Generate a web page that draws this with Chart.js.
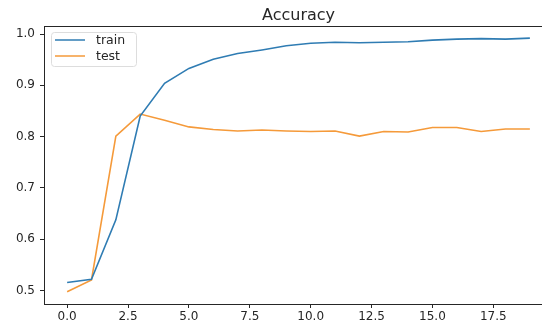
<!DOCTYPE html>
<html>
<head>
<meta charset="utf-8">
<script src="https://cdn.jsdelivr.net/npm/chart.js@4"></script>
<style>
  html, body { margin: 0; padding: 0; background: #fff; overflow: hidden; }
  #wrap { width: 542px; height: 327px; overflow: hidden; }
</style>
</head>
<body>
<div id="wrap"><canvas id="chart" width="553" height="327"></canvas></div>
<script>
// epochs and accuracy values
const epochs = [0, 1, 2, 3, 4, 5, 6, 7, 8, 9, 10, 11, 12, 13, 14, 15, 16, 17, 18, 19];
const trainAcc = [0.516, 0.522, 0.638, 0.840, 0.904, 0.933, 0.951, 0.962, 0.969, 0.977,
                  0.982, 0.984, 0.983, 0.984, 0.985, 0.988, 0.990, 0.991, 0.990, 0.992];
const testAcc = [0.498, 0.521, 0.801, 0.844, 0.832, 0.819, 0.814, 0.811, 0.813, 0.811,
                 0.810, 0.811, 0.801, 0.810, 0.809, 0.818, 0.818, 0.810, 0.815, 0.815];
const xTicks = [0, 2.5, 5, 7.5, 10, 12.5, 15, 17.5];
const xTickLabels = ['0.0', '2.5', '5.0', '7.5', '10.0', '12.5', '15.0', '17.5'];
const yTicks = [0.5, 0.6, 0.7, 0.8, 0.9, 1.0];
const yTickLabels = ['0.5', '0.6', '0.7', '0.8', '0.9', '1.0'];
const chartTitle = 'Accuracy';

const FONT = 'DejaVu Sans';
const INK = '#262626';

// draws the title, the axes frame and the matplotlib-style legend box
const framePlugin = {
    id: 'frame',
    afterDraw(chart) {
        const ctx = chart.ctx;
        const a = chart.chartArea;
        ctx.save();
        ctx.strokeStyle = INK;
        ctx.lineWidth = 1;
        ctx.strokeRect(a.left + 0.5, a.top + 0.5, a.right - a.left, a.bottom - a.top);

        // title over the axes
        ctx.fillStyle = INK;
        ctx.font = '16px "' + FONT + '"';
        ctx.textAlign = 'center';
        ctx.textBaseline = 'alphabetic';
        ctx.fillText(chartTitle, (a.left + a.right) / 2, a.top - 6);

        // legend
        const x0 = a.left + 7, y0 = a.top + 6;
        ctx.fillStyle = 'rgba(255,255,255,0.85)';
        ctx.strokeStyle = '#dddddd';
        ctx.beginPath();
        ctx.roundRect(x0 + 0.5, y0 + 0.5, 85, 34, 3);
        ctx.fill();
        ctx.stroke();
        ctx.font = '12.5px "' + FONT + '"';
        ctx.textAlign = 'left';
        ctx.textBaseline = 'middle';
        chart.data.datasets.forEach((ds, i) => {
            const y = y0 + 8 + i * 16;
            ctx.strokeStyle = ds.borderColor;
            ctx.lineWidth = 1.5;
            ctx.beginPath();
            ctx.moveTo(x0 + 4, y);
            ctx.lineTo(x0 + 34, y);
            ctx.stroke();
            ctx.fillStyle = INK;
            ctx.fillText(ds.label, x0 + 45, y + 1);
        });
        ctx.restore();
    }
};

new Chart(document.getElementById('chart'), {
    type: 'line',
    data: {
        datasets: [{
            label: 'train',
            data: epochs.map((e, i) => ({ x: e, y: trainAcc[i] })),
            borderColor: '#2f7cb3',
            borderWidth: 1.6,
            pointRadius: 0,
            tension: 0,
            fill: false
        }, {
            label: 'test',
            data: epochs.map((e, i) => ({ x: e, y: testAcc[i] })),
            borderColor: '#f59a3a',
            borderWidth: 1.6,
            pointRadius: 0,
            tension: 0,
            fill: false
        }]
    },
    options: {
        responsive: false,
        animation: false,
        layout: { padding: { left: 0, right: 0, top: 26, bottom: 0 } },
        plugins: {
            legend: { display: false },
            tooltip: { enabled: false },
            title: { display: false }
        },
        scales: {
            x: {
                type: 'linear',
                min: -0.95,
                max: 19.95,
                afterBuildTicks: s => { s.ticks = xTicks.map(v => ({ value: v })); },
                afterFit: s => { s.height = 23; },
                grid: { drawOnChartArea: false, tickLength: 4, color: INK },
                border: { display: false },
                ticks: {
                    color: INK,
                    padding: 2,
                    maxRotation: 0,
                    font: { family: FONT, size: 12 },
                    callback: (v) => xTickLabels[xTicks.indexOf(v)]
                }
            },
            y: {
                min: 0.474,
                max: 1.0156,
                afterBuildTicks: s => { s.ticks = yTicks.map(v => ({ value: v })); },
                afterFit: s => { s.width = 44; },
                grid: { drawOnChartArea: false, tickLength: 4, color: INK },
                border: { display: false },
                ticks: {
                    color: INK,
                    padding: 5,
                    font: { family: FONT, size: 12 },
                    callback: (v) => yTickLabels[yTicks.indexOf(v)]
                }
            }
        }
    },
    plugins: [framePlugin]
});
</script>
</body>
</html>
